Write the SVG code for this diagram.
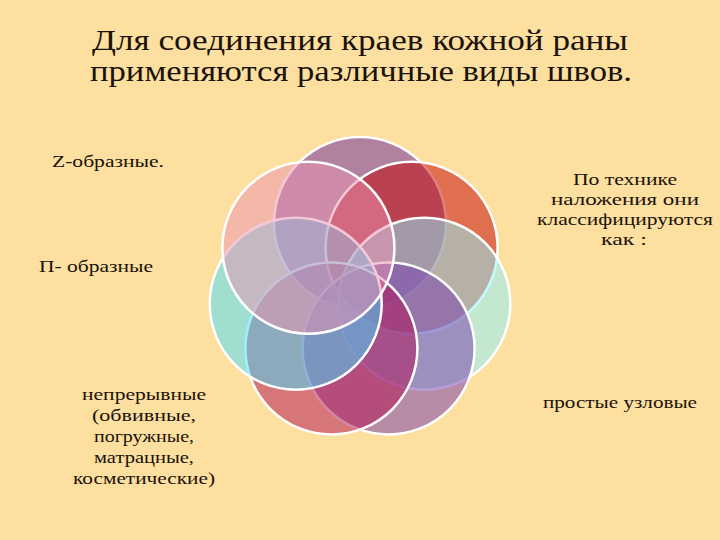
<svg xmlns="http://www.w3.org/2000/svg" width="720" height="540" viewBox="0 0 720 540">
<style>
.t{font-family:"Liberation Serif","DejaVu Serif",serif;fill:#1a120c}
.title{font-size:29px}
.lbl{font-size:17px}
.c{stroke:#ffffff;stroke-width:2.5;fill-opacity:0.5}
</style>
<rect x="0" y="0" width="720" height="540" fill="#FDDF9F"/>
<g id="title">
<text class="t title" x="360" y="50" text-anchor="middle" textLength="536" lengthAdjust="spacingAndGlyphs">Для соединения краев кожной раны</text>
<text class="t title" x="361" y="81" text-anchor="middle" textLength="542" lengthAdjust="spacingAndGlyphs">применяются различные виды швов.</text>
</g>
<g id="flower">
<circle id="c1" class="c" cx="360" cy="223" r="86" fill="#6325A1"/>
<circle id="c2" class="c" cx="411.6" cy="247.8" r="86" fill="#C30000"/>
<circle id="c3" class="c" cx="424.3" cy="303.7" r="86" fill="#8BF1FF"/>
<circle id="c4" class="c" cx="388.6" cy="348.5" r="86" fill="#7339AD"/>
<circle id="c5" class="c" cx="331.4" cy="348.5" r="86" fill="#AF0D51"/>
<circle id="c6" class="c" cx="295.7" cy="303.7" r="86" fill="#43DDFF"/>
<circle id="c7" class="c" cx="308.4" cy="247.8" r="86" fill="#EB91B1"/>
</g>
<g id="labels">
<text id="z" class="t lbl" x="108" y="167" text-anchor="middle" textLength="112" lengthAdjust="spacingAndGlyphs">Z-образные.</text>
<text id="p" class="t lbl" x="96" y="272" text-anchor="middle" textLength="114" lengthAdjust="spacingAndGlyphs">П- образные</text>
<g id="cont">
<text class="t lbl" x="144" y="400" text-anchor="middle" textLength="124" lengthAdjust="spacingAndGlyphs">непрерывные</text>
<text class="t lbl" x="144" y="421" text-anchor="middle" textLength="104" lengthAdjust="spacingAndGlyphs">(обвивные,</text>
<text class="t lbl" x="144" y="442" text-anchor="middle" textLength="100" lengthAdjust="spacingAndGlyphs">погружные,</text>
<text class="t lbl" x="144" y="463" text-anchor="middle" textLength="100" lengthAdjust="spacingAndGlyphs">матрацные,</text>
<text class="t lbl" x="144" y="484" text-anchor="middle" textLength="142" lengthAdjust="spacingAndGlyphs">косметические)</text>
</g>
<g id="tech">
<text class="t lbl" x="625" y="185" text-anchor="middle" textLength="104" lengthAdjust="spacingAndGlyphs">По технике</text>
<text class="t lbl" x="625" y="205" text-anchor="middle" textLength="148" lengthAdjust="spacingAndGlyphs">наложения они</text>
<text class="t lbl" x="625" y="225" text-anchor="middle" textLength="176" lengthAdjust="spacingAndGlyphs">классифицируются</text>
<text class="t lbl" x="624" y="245" text-anchor="middle" textLength="46" lengthAdjust="spacingAndGlyphs">как :</text>
</g>
<text id="simple" class="t lbl" x="620" y="408" text-anchor="middle" textLength="154" lengthAdjust="spacingAndGlyphs">простые узловые</text>
</g>
</svg>
